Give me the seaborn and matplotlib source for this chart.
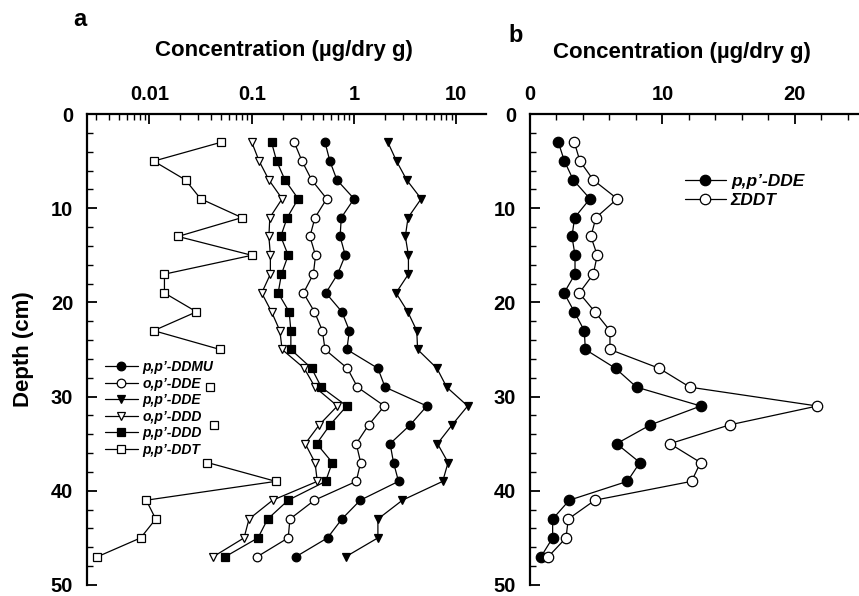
import numpy as np
import pandas as pd
import matplotlib
matplotlib.use("Agg")
import matplotlib.pyplot as plt
import seaborn as sns
from matplotlib.lines import Line2D
from matplotlib.ticker import FixedLocator, MultipleLocator, NullFormatter, FixedFormatter

# Sediment core depths (cm)
depth = [3, 5, 7, 9, 11, 13, 15, 17, 19, 21, 23, 25,
         27, 29, 31, 33, 35, 37, 39, 41, 43, 45, 47]

# Concentrations (ug/dry g)
pp_ddmu = [0.52, 0.58, 0.68, 1.00, 0.75, 0.73, 0.82, 0.69, 0.53, 0.76, 0.90, 0.85,
           1.71, 2.01, 5.15, 3.54, 2.25, 2.43, 2.72, 1.15, 0.76, 0.55, 0.27]
op_dde = [0.26, 0.31, 0.385, 0.54, 0.415, 0.37, 0.42, 0.40, 0.32, 0.41, 0.49, 0.52,
          0.86, 1.08, 1.98, 1.39, 1.05, 1.16, 1.05, 0.41, 0.236, 0.227, 0.113]
pp_dde = [2.14, 2.60, 3.27, 4.53, 3.37, 3.17, 3.40, 3.40, 2.57, 3.35, 4.10, 4.18,
          6.46, 8.05, 12.9, 9.10, 6.54, 8.30, 7.35, 2.97, 1.71, 1.71, 0.83]
op_ddd = [0.100, 0.118, 0.147, 0.198, 0.150, 0.147, 0.152, 0.152, 0.125, 0.156, 0.188, 0.198,
          0.326, 0.415, 0.687, 0.457, 0.333, 0.415, 0.437, 0.160, 0.094, 0.084, 0.042]
pp_ddd = [0.156, 0.175, 0.211, 0.284, 0.222, 0.192, 0.227, 0.195, 0.181, 0.232, 0.241, 0.241,
          0.385, 0.478, 0.848, 0.582, 0.431, 0.612, 0.527, 0.227, 0.143, 0.115, 0.055]
pp_ddt = [0.050, 0.011, 0.0225, 0.0316, 0.080, 0.019, 0.100, 0.014, 0.014, 0.0288, 0.011, 0.049,
          np.nan, 0.0388, np.nan, 0.0427, np.nan, 0.0368, 0.172, 0.0093, 0.0115, 0.0082, 0.0031]
sum_ddt = [3.35, 3.77, 4.78, 6.59, 4.98, 4.60, 5.08, 4.78, 3.72, 4.90, 6.04, 6.04,
           9.76, 12.08, 21.7, 15.09, 10.57, 12.88, 12.20, 4.90, 2.89, 2.72, 1.38]

series_a = [
    ("p,p\u2019-DDMU", pp_ddmu, "o", "black"),
    ("o,p\u2019-DDE", op_dde, "o", "white"),
    ("p,p\u2019-DDE", pp_dde, "v", "black"),
    ("o,p\u2019-DDD", op_ddd, "v", "white"),
    ("p,p\u2019-DDD", pp_ddd, "s", "black"),
    ("p,p\u2019-DDT", pp_ddt, "s", "white"),
]
series_b = [
    ("p,p\u2019-DDE", pp_dde, "o", "black"),
    ("\u03A3DDT", sum_ddt, "o", "white"),
]

sns.set_theme(style="ticks")
plt.rcParams["font.family"] = ["Liberation Sans", "DejaVu Sans"]
plt.rcParams["font.weight"] = "bold"
plt.rcParams["axes.linewidth"] = 1.6
for key in ("text.color", "axes.labelcolor", "axes.edgecolor",
            "xtick.color", "ytick.color"):
    plt.rcParams[key] = "black"

fig = plt.figure(figsize=(8.59, 5.96), dpi=100)
ax_a = fig.add_axes([0.1013, 0.0185, 0.4645, 0.7902])
ax_b = fig.add_axes([0.6170, 0.0185, 0.3853, 0.7902])


def draw_profile(ax, values, marker, face, ms):
    df = pd.DataFrame({"depth": depth, "conc": values})
    # gaps (missing samples) split the profile into separate segments
    df["seg"] = df["conc"].isna().cumsum()
    df = df.dropna()
    sns.lineplot(data=df, x="conc", y="depth", units="seg", estimator=None,
                 sort=False, orient="y", ax=ax, color="black", linewidth=0.9,
                 marker=marker, markersize=ms, markerfacecolor=face,
                 markeredgecolor="black", markeredgewidth=0.9)


ax_a.set_xscale("log")
for name, vals, mk, fc in series_a:
    draw_profile(ax_a, vals, mk, fc, 6.2)
for name, vals, mk, fc in series_b:
    draw_profile(ax_b, vals, mk, fc, 7.5)

label_font = dict(fontsize=16, fontweight="bold")
tick_size = 14.5

for ax in (ax_a, ax_b):
    ax.set_ylim(50, 0)
    ax.yaxis.set_major_locator(MultipleLocator(10))
    ax.yaxis.set_minor_locator(MultipleLocator(2))
    ax.xaxis.tick_top()
    ax.xaxis.set_label_position("top")
    ax.spines["bottom"].set_visible(False)
    ax.spines["right"].set_visible(False)
    ax.tick_params(which="major", direction="in", length=7, width=1.3,
                   labelsize=tick_size, pad=7)
    ax.tick_params(which="minor", direction="in", length=4, width=1.0)
    ax.tick_params(axis="y", pad=10)

# panel a: logarithmic concentration axis
ax_a.set_xlim(0.00245, 19.5)
ax_a.xaxis.set_major_locator(FixedLocator([0.01, 0.1, 1, 10]))
ax_a.xaxis.set_major_formatter(FixedFormatter(["0.01", "0.1", "1", "10"]))
minor = [m * 10.0 ** e for e in range(-3, 2) for m in range(2, 10)]
ax_a.xaxis.set_minor_locator(FixedLocator(minor))
ax_a.xaxis.set_minor_formatter(NullFormatter())

# panel b: linear concentration axis
ax_b.set_xlim(0, 25)
ax_b.xaxis.set_major_locator(MultipleLocator(10))
ax_b.xaxis.set_minor_locator(MultipleLocator(2))

for ax in (ax_a, ax_b):
    for lab in ax.get_xticklabels() + ax.get_yticklabels():
        lab.set_fontweight("bold")
        lab.set_fontsize(tick_size)

ax_a.set_xlabel("Concentration (\u00b5g/dry g)", **label_font)
ax_a.xaxis.set_label_coords(0.494, 1.135)
ax_a.xaxis.label.set_verticalalignment("center")
ax_b.set_xlabel("Concentration (\u00b5g/dry g)", **label_font)
ax_b.xaxis.set_label_coords(0.46, 1.13)
ax_b.xaxis.label.set_verticalalignment("center")

ax_a.set_ylabel("Depth (cm)", **label_font)
ax_a.yaxis.set_label_coords(-0.16, 0.5)
ax_a.yaxis.label.set_verticalalignment("center")
ax_b.set_ylabel("")

fig.text(80 / 859, 1 - 20 / 596, "a", ha="center", va="center",
         fontsize=17, fontweight="bold")
fig.text(516 / 859, 1 - 36 / 596, "b", ha="center", va="center",
         fontsize=17, fontweight="bold")


def legend_handles(series, ms):
    return [Line2D([0], [0], color="black", linewidth=0.9, marker=mk,
                   markersize=ms, markerfacecolor=fc, markeredgecolor="black",
                   markeredgewidth=0.9) for _, _, mk, fc in series]


leg_font_a = dict(size=10, weight="bold", style="italic")
ax_a.legend(legend_handles(series_a, 6.2), [s[0] for s in series_a],
            loc="upper left", bbox_to_anchor=(0.045, 0.477), frameon=False,
            borderpad=0, borderaxespad=0, handlelength=2.35, handletextpad=0.35,
            labelspacing=0.18, prop=leg_font_a)

leg_font_b = dict(size=12.5, weight="bold", style="italic")
ax_b.legend(legend_handles(series_b, 7.5), [s[0] for s in series_b],
            loc="upper left", bbox_to_anchor=(0.468, 0.872), frameon=False,
            borderpad=0, borderaxespad=0, handlelength=2.35, handletextpad=0.3,
            labelspacing=0.18, prop=leg_font_b)

fig.savefig("out.png", dpi=100)
